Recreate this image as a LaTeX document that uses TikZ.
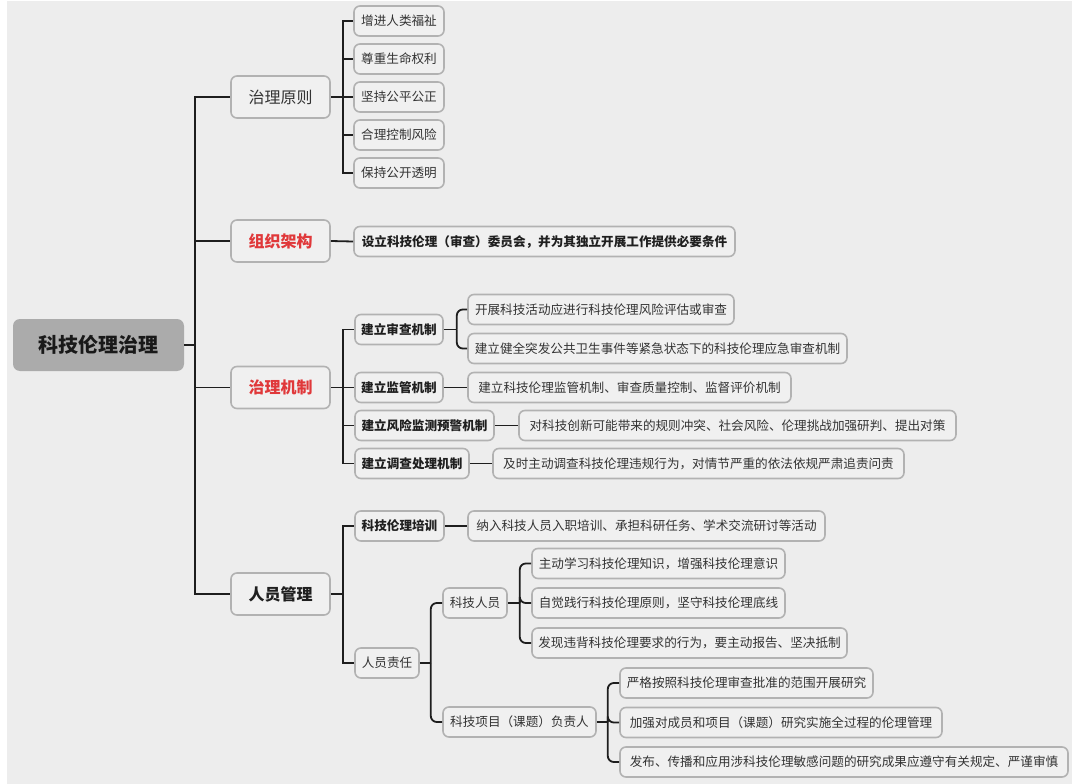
\documentclass[tikz,border=0pt]{standalone}
\usepackage{fontspec}
\setmainfont{Noto Sans CJK SC}
\definecolor{bgc}{HTML}{EDEDED}
\definecolor{boxfill}{HTML}{F0F0F0}
\definecolor{boxline}{HTML}{B2B2B2}
\definecolor{linec}{HTML}{1E1E1E}
\definecolor{txt}{HTML}{333333}
\definecolor{redtxt}{HTML}{E0383A}
\definecolor{rootfill}{HTML}{ABABAB}
\tikzset{
  box/.style={draw=boxline, fill=boxfill, line width=1.6pt, rounded corners=6pt,
    inner sep=0pt, text=txt, font=\fontsize{12.6pt}{14pt}\selectfont, minimum height=30pt},
  boldbox/.style={box, text=black!88, font=\fontsize{12.6pt}{14pt}\selectfont\bfseries},
  lvone/.style={box, minimum width=99pt, minimum height=42pt, font=\fontsize{16pt}{18pt}\selectfont},
  rootbox/.style={fill=rootfill, rounded corners=7pt, inner sep=0pt, text=black!90,
    font=\fontsize{20pt}{22pt}\selectfont\bfseries, minimum width=171pt, minimum height=52pt},
  conn/.style={draw=linec, line width=1.8pt},
  rconn/.style={conn, rounded corners=6pt},
}
\begin{document}
\begin{tikzpicture}[x=1pt,y=-1pt]
\useasboundingbox (0,0) rectangle (1072,784);
\fill[white] (0,0) rectangle (1072,784);
\fill[bgc] (7,1) rectangle (1072,784);

% root
\node[rootbox] (root) at (98.5,345) {科技伦理治理};

% level 1
\node[lvone] (p1) at (280.5,97) {治理原则};
\node[lvone, text=redtxt, font=\fontsize{16pt}{18pt}\selectfont\bfseries] (p2) at (280.5,241) {组织架构};
\node[lvone, text=redtxt, font=\fontsize{16pt}{18pt}\selectfont\bfseries] (p3) at (280.5,387.5) {治理机制};
\node[lvone, text=black!88, font=\fontsize{16pt}{18pt}\selectfont\bfseries] (p4) at (280.5,594) {人员管理};

% principles
\node[box, minimum width=90pt] (a1) at (399,21) {增进人类福祉};
\node[box, minimum width=90pt] (a2) at (399,59) {尊重生命权利};
\node[box, minimum width=90pt] (a3) at (399,97) {坚持公平公正};
\node[box, minimum width=90pt] (a4) at (399,135) {合理控制风险};
\node[box, minimum width=90pt] (a5) at (399,173) {保持公开透明};

% organisation
\node[boldbox, minimum width=381pt] (b1) at (544.5,241.5) {设立科技伦理（审查）委员会，并为其独立开展工作提供必要条件};

% mechanisms
\node[boldbox, minimum width=88pt] (c1) at (399,329.5) {建立审查机制};
\node[boldbox, minimum width=88pt] (c2) at (399,387.5) {建立监管机制};
\node[boldbox, minimum width=139pt] (c3) at (424.5,425.5) {建立风险监测预警机制};
\node[boldbox, minimum width=114pt] (c4) at (412,463.5) {建立调查处理机制};

\node[box, minimum width=266pt] (d1) at (601,309.5) {开展科技活动应进行科技伦理风险评估或审查};
\node[box, minimum width=379pt] (d2) at (657.5,348.5) {建立健全突发公共卫生事件等紧急状态下的科技伦理应急审查机制};
\node[box, minimum width=323pt] (d3) at (629.5,387.5) {建立科技伦理监管机制、审查质量控制、监督评价机制};
\node[box, minimum width=437pt] (d4) at (737.5,425.5) {对科技创新可能带来的规则冲突、社会风险、伦理挑战加强研判、提出对策};
\node[box, minimum width=411pt] (d5) at (698.5,463.5) {及时主动调查科技伦理违规行为，对情节严重的依法依规严肃追责问责};

% personnel
\node[boldbox, minimum width=89pt] (e1) at (399.5,526) {科技伦理培训};
\node[box, minimum width=64pt] (e2) at (387,663) {人员责任};
\node[box, minimum width=357pt] (f1) at (646.5,526) {纳入科技人员入职培训、承担科研任务、学术交流研讨等活动};
\node[box, minimum width=64pt] (g1) at (475,603) {科技人员};
\node[box, minimum width=153pt] (g2) at (519.5,722) {科技项目（课题）负责人};
\node[box, minimum width=253pt] (h1) at (658.5,563.5) {主动学习科技伦理知识，增强科技伦理意识};
\node[box, minimum width=253pt] (h2) at (658.5,603) {自觉践行科技伦理原则，坚守科技伦理底线};
\node[box, minimum width=315pt] (h3) at (689.5,643) {发现违背科技伦理要求的行为，要主动报告、坚决抵制};
\node[box, minimum width=253pt] (i1) at (746.5,683) {严格按照科技伦理审查批准的范围开展研究};
\node[box, minimum width=322pt] (i2) at (781,722.5) {加强对成员和项目（课题）研究实施全过程的伦理管理};
\node[box, minimum width=448pt] (i3) at (844,762) {发布、传播和应用涉科技伦理敏感问题的研究成果应遵守有关规定、严谨审慎};

% junction coordinates
\coordinate (rj) at ([xshift=11pt]root.east);
\coordinate (p1j) at ([xshift=12pt]p1.east);
\coordinate (p3j) at ([xshift=12pt]p3.east);
\coordinate (p4j) at ([xshift=12pt]p4.east);
\coordinate (c1j) at ([xshift=13pt]c1.east);
\coordinate (e2j) at ([xshift=11pt]e2.east);
\coordinate (g1j) at ([xshift=12pt]g1.east);
\coordinate (g2j) at ([xshift=11pt]g2.east);

% connectors: root
\draw[conn] (root.east) -- (rj);
\foreach \n in {p1,p2,p3,p4} \draw[conn] (rj) |- (\n.west);
% principles
\draw[conn] (p1.east) -- (p1j);
\foreach \n in {a1,a2,a3,a4,a5} \draw[conn] (p1j) |- (\n.west);
% organisation
\draw[conn] (p2.east) -- (b1.west);
% mechanisms
\draw[conn] (p3.east) -- (p3j);
\foreach \n in {c1,c2,c3,c4} \draw[conn] (p3j) |- (\n.west);
\draw[conn] (c1.east) -- (c1j);
\foreach \n in {d1,d2} \draw[rconn] (c1j) |- (\n.west);
\draw[conn] (c2.east) -- (d3.west);
\draw[conn] (c3.east) -- (d4.west);
\draw[conn] (c4.east) -- (d5.west);
% personnel
\draw[conn] (p4.east) -- (p4j);
\foreach \n in {e1,e2} \draw[conn] (p4j) |- (\n.west);
\draw[conn] (e1.east) -- (f1.west);
\draw[conn] (e2.east) -- (e2j);
\foreach \n in {g1,g2} \draw[rconn] (e2j) |- (\n.west);
\draw[conn] (g1.east) -- (g1j);
\foreach \n in {h1,h2,h3} \draw[rconn] (g1j) |- (\n.west);
\draw[conn] (g2.east) -- (g2j);
\foreach \n in {i1,i2,i3} \draw[rconn] (g2j) |- (\n.west);
\end{tikzpicture}
\end{document}
